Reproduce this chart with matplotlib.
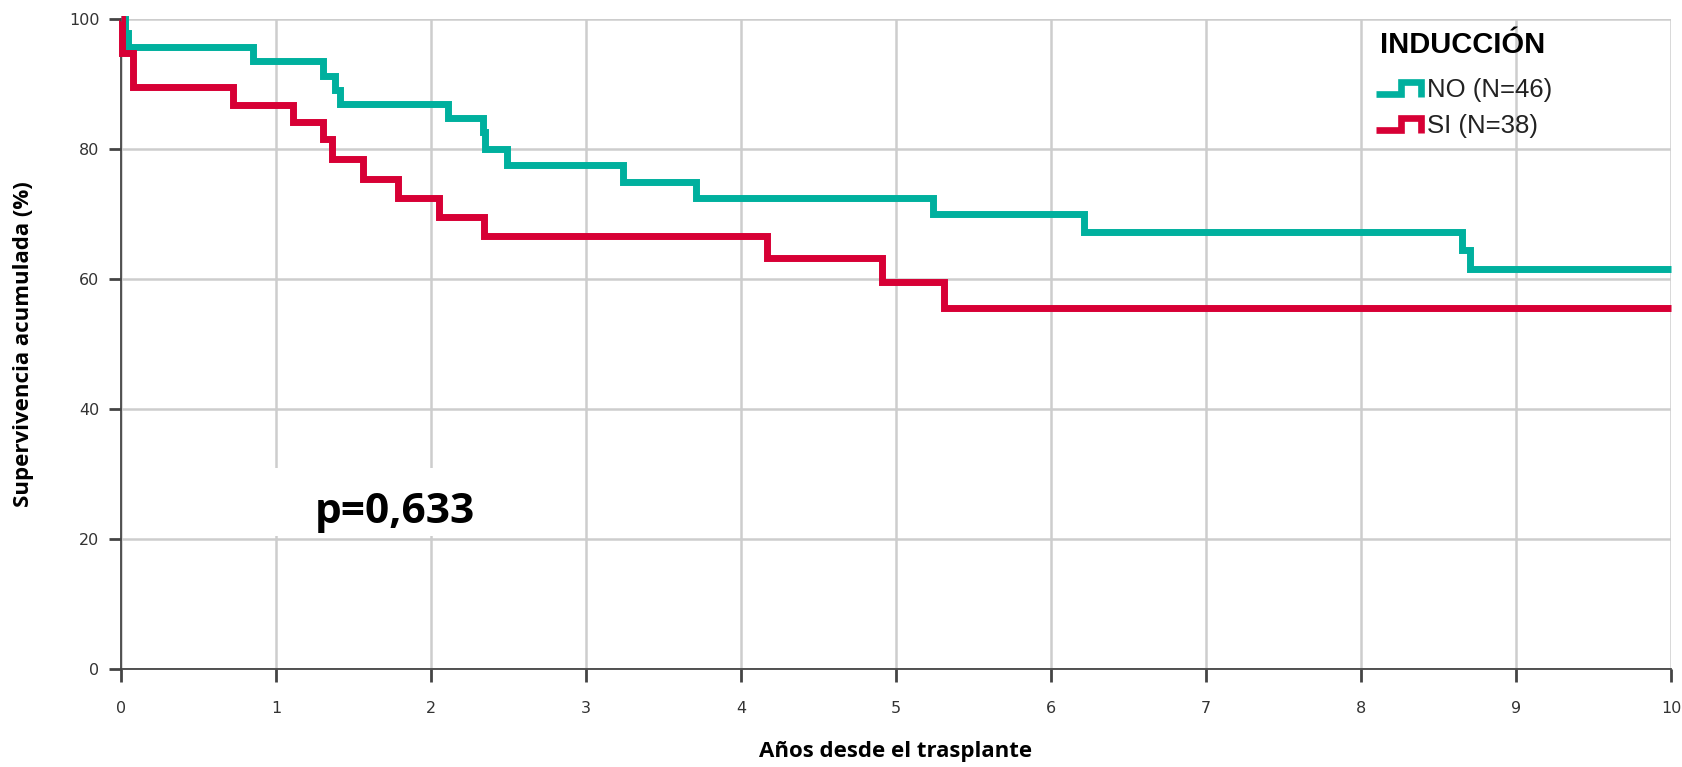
import matplotlib
matplotlib.use("Agg")
import matplotlib.pyplot as plt
from matplotlib.lines import Line2D
from matplotlib.patches import Rectangle

# Kaplan-Meier steps
no_t = [0, 0.025, 0.045, 0.85, 1.30, 1.38, 1.41, 2.11, 2.335, 2.35, 2.49, 3.24, 3.71, 5.24, 6.21, 8.65, 8.70, 10]
no_s = [100, 97.8, 95.7, 93.5, 91.3, 89.1, 87.0, 84.8, 82.6, 80.0, 77.5, 75.0, 72.5, 70.0, 67.3, 64.4, 61.5, 61.5]

si_t = [0, 0.005, 0.08, 0.72, 1.11, 1.30, 1.36, 1.56, 1.79, 2.05, 2.34, 4.17, 4.91, 5.31, 10]
si_s = [100, 94.7, 89.5, 86.8, 84.2, 81.5, 78.4, 75.4, 72.5, 69.6, 66.6, 63.2, 59.5, 55.5, 55.5]

labels = ["NO (N=46)", "SI (N=38)"]
colors = ["#00b09e", "#d70035"]

x_ticks = list(range(0, 11))
y_ticks = [0, 20, 40, 60, 80, 100]
p_text = "p=0,633"

W, H = 1683, 767
fig = plt.figure(figsize=(W / 100, H / 100), dpi=100)
ax = fig.add_axes([121 / W, 1 - 669 / H, 1550 / W, 650 / H])

ax.set_xlim(0, 10)
ax.set_ylim(0, 100)
ax.set_xticks(x_ticks)
ax.set_yticks(y_ticks)
ax.grid(True, color="#cdcdcd", linewidth=1.8, zorder=0)
ax.set_axisbelow(True)

for sp in ["top", "right"]:
    ax.spines[sp].set_visible(False)
for sp in ["left", "bottom"]:
    ax.spines[sp].set_color("#444444")
    ax.spines[sp].set_linewidth(1.3)

ax.tick_params(axis="y", length=8.5, width=2, color="#444444", pad=7,
               labelsize=11.5, labelcolor="#333333")
ax.tick_params(axis="x", length=9, width=2, color="#444444", pad=14,
               labelsize=11.5, labelcolor="#333333")

# white box behind the p-value
ax.add_patch(Rectangle((0.935, 20.5), 1.665, 10.4, facecolor="white",
                       edgecolor="none", zorder=1))
ax.text(1.77, 22.5, p_text, ha="center", va="baseline", fontsize=30.5,
        fontweight="bold", family="Open Sans", color="black", zorder=3)

for t, s, c in [(no_t, no_s, colors[0]), (si_t, si_s, colors[1])]:
    ax.plot(t, s, drawstyle="steps-post", color=c, linewidth=5,
            solid_joinstyle="miter", solid_capstyle="butt", clip_on=False, zorder=4)

fig.text(24 / W, 1 - 344 / H, "Supervivencia acumulada (%)", rotation=90,
         ha="center", va="center", fontsize=16, fontweight="bold", family="Open Sans")
fig.text(896 / W, 1 - 752 / H, "Años desde el trasplante", ha="center", va="center",
         fontsize=16, fontweight="bold", family="Open Sans")

# legend, drawn by hand to get the step icons
fig.text(1380 / W, 1 - 53 / H, "INDUCCIÓN", ha="left", va="baseline",
         fontsize=21, fontweight="bold", family="Liberation Sans")
for i, (lab, c) in enumerate(zip(labels, colors)):
    base = 96.5 + i * 36.5
    fig.text(1427 / W, 1 - base / H, lab, ha="left", va="baseline",
             fontsize=18.5, family="Liberation Sans", color="#222222")
    hx = [1376, 1401, 1401, 1421, 1421]
    hy = [base - 3, base - 3, base - 15, base - 15, base]
    fig.add_artist(Line2D([v / W for v in hx], [1 - v / H for v in hy],
                          color=c, linewidth=4.8, solid_joinstyle="miter",
                          solid_capstyle="butt"))

fig.savefig("out.png", dpi=100)
